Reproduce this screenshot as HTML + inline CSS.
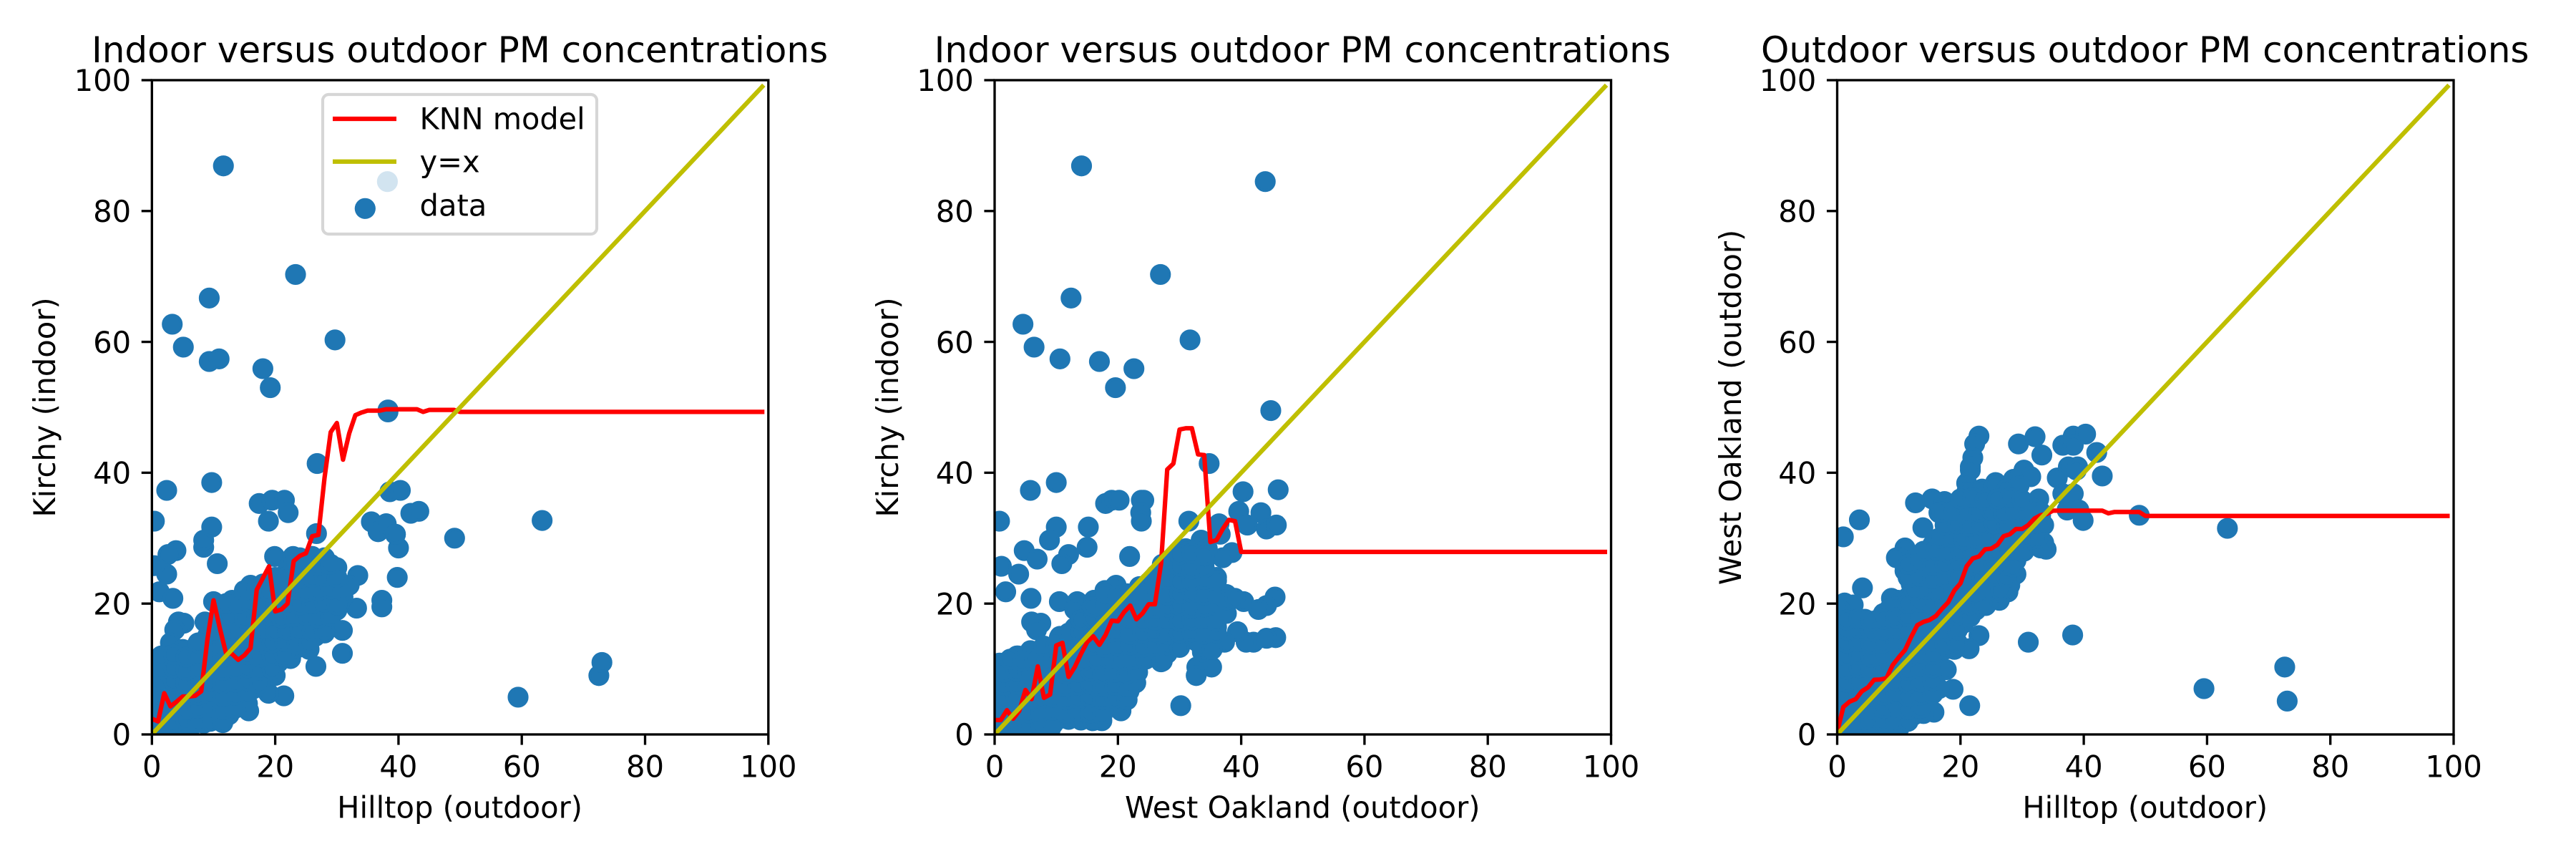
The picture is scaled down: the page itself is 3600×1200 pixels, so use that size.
<!DOCTYPE html>
<html lang="en">
<head>
<meta charset="utf-8">
<title>Indoor and outdoor PM concentrations</title>
<style>
html,body{margin:0;padding:0;background:#fff;}
svg{display:block;}
text{font-family:"DejaVu Sans","Liberation Sans",sans-serif;fill:#000;}
</style>
</head>
<body>
<svg id="figure" xmlns="http://www.w3.org/2000/svg" width="3600" height="1200" viewBox="0 0 3600 1200"></svg>
<script>
const tickValues = [0, 20, 40, 60, 80, 100];
const tickLabels = ["0", "20", "40", "60", "80", "100"];
const knnGrid = [0,1,2,3,4,5,6,7,8,9,10,11,12,13,14,15,16,17,18,19,20,21,22,23,24,25,26,27,28,29,30,31,32,33,34,35,36,37,38,39,40,41,42,43,44,45,46,47,48,49,50,51,52,53,54,55,56,57,58,59,60,61,62,63,64,65,66,67,68,69,70,71,72,73,74,75,76,77,78,79,80,81,82,83,84,85,86,87,88,89,90,91,92,93,94,95,96,97,98,99];
const identityX = [0, 99];
const identityY = [0, 99];

const knnKirchyHilltop = [2.4,2.0,6.3,4.3,5.0,5.8,5.8,5.9,6.6,14.5,
20.5,16.3,12.5,12.3,11.4,12.1,13.2,22.1,23.9,25.7,
18.8,19.1,20.0,26.5,27.3,27.7,30.3,30.5,39.2,46.2,
47.6,42.0,46.0,48.8,49.2,49.5,49.5,49.5,49.7,49.7,
49.7,49.7,49.7,49.7,49.3,49.6,49.6,49.6,49.6,49.6,
49.3,49.3,49.3,49.3,49.3,49.3,49.3,49.3,49.3,49.3,
49.3,49.3,49.3,49.3,49.3,49.3,49.3,49.3,49.3,49.3,
49.3,49.3,49.3,49.3,49.3,49.3,49.3,49.3,49.3,49.3,
49.3,49.3,49.3,49.3,49.3,49.3,49.3,49.3,49.3,49.3,
49.3,49.3,49.3,49.3,49.3,49.3,49.3,49.3,49.3,49.3];

const knnKirchyOakland = [2.2,2.2,3.7,2.4,3.6,6.8,5.4,10.4,5.6,6.1,
13.6,14.0,8.8,10.3,12.3,14.1,15.0,13.7,15.2,17.4,
17.3,18.7,19.7,17.6,18.5,19.9,19.9,26.1,40.5,41.4,
46.6,46.8,46.8,42.8,42.7,29.4,29.7,31.4,32.8,32.6,
27.9,27.9,27.9,27.9,27.9,27.9,27.9,27.9,27.9,27.9,
27.9,27.9,27.9,27.9,27.9,27.9,27.9,27.9,27.9,27.9,
27.9,27.9,27.9,27.9,27.9,27.9,27.9,27.9,27.9,27.9,
27.9,27.9,27.9,27.9,27.9,27.9,27.9,27.9,27.9,27.9,
27.9,27.9,27.9,27.9,27.9,27.9,27.9,27.9,27.9,27.9,
27.9,27.9,27.9,27.9,27.9,27.9,27.9,27.9,27.9,27.9];

const knnOaklandHilltop = [0.4,4.2,5.0,5.4,6.6,7.2,8.35,8.4,8.6,10.6,
11.8,12.9,14.9,16.7,17.2,17.5,18.1,19.2,20.2,22.0,
23.1,25.7,26.9,27.2,28.3,28.4,29.0,30.3,30.6,31.4,
31.4,32.0,33.0,33.5,33.7,34.2,34.2,34.2,34.2,34.2,
34.2,34.2,34.2,34.2,33.8,34.0,34.0,34.0,34.0,34.0,
33.4,33.4,33.4,33.4,33.4,33.4,33.4,33.4,33.4,33.4,
33.4,33.4,33.4,33.4,33.4,33.4,33.4,33.4,33.4,33.4,
33.4,33.4,33.4,33.4,33.4,33.4,33.4,33.4,33.4,33.4,
33.4,33.4,33.4,33.4,33.4,33.4,33.4,33.4,33.4,33.4,
33.4,33.4,33.4,33.4,33.4,33.4,33.4,33.4,33.4,33.4];

const scatterHilltopA = [
11.6,38.2,23.3,9.3,3.3,5.1,29.7,9.3,10.9,18.0,
19.2,38.3,38.3,26.8,2.4,9.7,38.6,40.3,17.4,19.5,
21.5,22.1,18.9,0.4,42.0,43.3,35.6,36.7,38.0,39.5,
40.0,49.1,63.3,59.4,72.5,73.0,39.8,37.3,37.3,30.9,
30.9,33.2,33.4,26.6,21.4,18.9,11.5,8.4,15.7,15.5,
8.4,8.4,9.7,10.6,3.9,2.6,2.4,0.4,1.2,3.4,
10.0,4.3,5.2,3.7,3.0,8.6,7.1,2.0,19.9,22.9,
26.7,26.0,36.7,38.0,39.5,
0.5,2.5,4.5,6.0,
0.5,2.5,4.5,6.5,8.5,10.5,12.5,
0.5,2.5,4.5,6.5,8.5,10.5,12.5,14.5,
0.5,2.5,4.5,6.5,8.5,10.5,12.5,14.5,16.5,
0.5,2.5,4.5,6.5,8.5,10.5,12.5,14.5,16.5,18.5,20.0,
0.5,2.5,4.5,6.5,8.5,10.5,12.5,14.5,16.5,18.5,20.5,22.5,
5.0,7.3,9.5,11.5,13.5,15.5,17.5,19.5,21.5,23.5,25.5,
9.0,11.0,13.0,15.0,17.0,19.0,21.0,23.0,25.0,26.5,28.0,
11.0,13.0,15.0,17.0,19.0,21.0,23.0,25.0,27.0,29.0,
12.0,14.0,16.0,18.0,20.0,22.0,24.0,26.0,28.0,30.0,
13.0,15.0,17.0,19.0,21.0,23.0,25.0,27.0,29.0,31.0,
16.0,18.0,20.0,22.0,24.0,26.0,28.0,30.0,32.0,
22.0,24.0,26.0,28.0,30.0,
24.0,26.0,28.0,
1.5,3.5,5.5,7.5,9.5,11.5,
1.5,3.5,5.5,7.5,9.5,11.5,13.5,
1.5,3.5,5.5,7.5,9.5,11.5,13.5,15.5,
1.5,3.5,5.5,7.5,9.5,11.5,13.5,15.5,17.5,
1.5,3.5,5.5,7.5,9.5,11.5,13.5,15.5,17.5,19.5,
1.5,3.5,5.5,7.5,9.5,11.5,13.5,15.5,17.5,19.5,21.5,
7.5,9.5,11.5,13.5,15.5,17.5,19.5,21.5,23.5,25.5,
10.0,12.0,14.0,16.0,18.0,20.0,22.0,24.0,26.0,28.0,
11.0,13.0,15.0,17.0,19.0,21.0,23.0,25.0,27.0,29.0,
12.0,14.0,16.0,18.0,20.0,22.0,24.0,26.0,28.0,30.0,
15.0,17.0,19.0,21.0,23.0,25.0,27.0,29.0,31.0,
20.0,22.0,24.0,26.0,28.0,30.0,
23.0,25.0,27.0,29.0];
const scatterKirchyA = [
86.9,84.5,70.3,66.7,62.7,59.2,60.3,57.0,57.4,55.9,
53.0,49.6,49.3,41.4,37.3,38.5,37.1,37.3,35.3,35.8,
35.8,33.9,32.6,32.6,33.8,34.1,32.5,31.0,32.2,30.6,
28.5,30.0,32.7,5.7,9.0,11.0,24.0,20.5,19.5,12.4,
15.9,19.3,24.3,10.4,5.9,6.3,2.3,1.7,3.6,4.7,
28.6,29.7,31.7,26.1,28.1,27.5,24.5,25.8,21.8,20.8,
20.3,17.2,17.0,16.0,14.0,17.2,13.4,12.1,27.2,27.2,
30.7,27.2,31.0,32.2,30.6,
0.8,1.0,0.6,0.5,
3.0,2.8,3.2,3.0,2.6,3.2,3.0,
5.0,5.2,4.8,5.0,5.3,4.8,5.2,5.0,
7.0,7.3,6.8,7.0,7.2,6.9,7.2,6.8,7.0,
9.0,9.3,8.8,9.2,9.0,8.8,9.2,9.0,8.8,9.2,9.0,
11.0,11.2,10.8,11.0,11.3,10.9,11.0,11.2,10.8,11.1,11.0,11.6,
13.0,13.3,13.0,12.8,13.2,13.0,12.8,13.2,13.0,13.2,13.0,
15.0,15.2,14.8,15.0,15.2,14.8,15.0,15.2,14.8,15.0,15.5,
17.0,17.2,16.8,17.0,17.2,16.8,17.0,17.2,16.8,17.0,
19.0,19.2,18.8,19.0,19.2,18.8,19.0,19.2,18.8,19.0,
20.5,21.0,21.2,20.8,21.0,21.2,20.8,21.0,21.2,21.0,
22.8,23.0,22.8,23.2,23.0,22.8,23.2,23.0,22.8,
25.0,25.2,24.8,25.2,25.5,
27.0,27.2,27.0,
2.0,1.8,2.2,2.0,2.0,1.8,
4.0,4.2,3.8,4.0,4.2,3.8,4.0,
6.0,6.2,5.8,6.0,6.2,5.8,6.0,6.2,
8.0,8.2,7.8,8.0,8.2,7.8,8.0,8.2,7.8,
10.0,10.2,9.8,10.0,10.2,9.8,10.0,10.2,9.8,10.0,
12.0,12.2,11.8,12.0,12.2,11.8,12.0,12.2,11.8,12.0,12.2,
14.0,14.2,13.8,14.0,14.2,13.8,14.0,14.2,13.8,14.0,
16.0,16.2,15.8,16.0,16.2,15.8,16.0,16.2,15.8,16.0,
18.0,18.2,17.8,18.0,18.2,17.8,18.0,18.2,17.8,18.0,
20.0,20.0,20.2,19.8,20.0,20.2,19.8,20.0,20.2,19.8,
22.0,22.2,21.8,22.0,22.2,21.8,22.0,22.2,22.0,
24.0,24.2,23.8,24.0,24.2,24.0,
26.0,26.2,25.8,26.0];

const scatterOaklandB = [
14.1,43.9,26.9,12.4,4.6,6.4,31.7,10.6,17.0,22.6,
19.6,44.8,34.8,5.8,10.0,40.3,46.0,18.0,19.0,20.2,
23.8,24.2,23.7,23.8,0.8,10.0,8.9,15.2,15.0,12.0,
10.9,4.8,6.9,1.1,3.9,1.8,5.9,10.5,21.9,31.5,
39.6,43.2,36.4,41.0,44.1,45.7,36.6,33.5,38.5,37.0,
36.0,45.5,44.1,42.8,40.4,37.6,45.6,44.1,42.0,40.8,
39.4,37.3,35.9,35.2,32.8,32.7,33.7,30.2,27.0,6.0,
7.5,6.8,10.6,3.6,5.9,0.8,13.4,13.0,17.9,19.7,
16.1,
0.5,2.5,4.5,6.5,8.5,9.0,
0.5,2.5,4.5,6.5,8.5,10.5,12.0,14.0,15.9,17.4,
0.5,2.5,4.5,6.5,8.5,10.5,12.5,14.5,16.5,18.5,20.5,
0.5,2.5,4.5,6.5,8.5,10.5,12.5,14.5,16.5,18.5,20.5,21.8,
0.5,2.5,4.5,6.5,8.5,10.5,12.5,14.5,16.5,18.5,20.5,22.6,
1.5,3.5,5.5,7.5,9.5,11.5,13.5,15.5,17.5,19.5,21.5,23.0,
3.8,5.8,8.0,10.0,12.0,14.0,16.0,18.0,20.0,22.0,24.0,26.0,28.0,
10.5,12.5,14.5,16.5,18.5,20.5,22.5,24.5,26.5,28.5,30.5,32.5,34.5,
13.0,15.0,17.0,19.0,21.0,23.0,25.0,27.0,29.0,31.0,33.0,35.0,36.0,
15.0,17.0,19.0,21.0,23.0,25.0,27.0,29.0,31.0,33.0,35.0,36.5,
17.0,19.0,21.0,23.0,25.0,27.0,29.0,31.0,33.0,35.0,37.0,
19.5,21.5,23.5,25.5,27.5,29.5,31.5,33.5,35.5,
25.0,26.2,28.0,30.0,32.0,34.0,
27.2,28.5,30.5,32.5,34.0,
31.0,33.0,34.5,
1.5,3.5,5.5,7.5,9.5,
1.5,3.5,5.5,7.5,9.5,11.5,13.5,15.5,17.5,20.5,
1.5,3.5,5.5,7.5,9.5,11.5,13.5,15.5,17.5,19.5,21.5,
1.5,3.5,5.5,7.5,9.5,11.5,13.5,15.5,17.5,19.5,21.5,22.9,
1.5,3.5,5.5,7.5,9.5,11.5,13.5,15.5,17.5,19.5,21.5,23.2,
2.5,4.5,6.5,8.5,10.5,12.5,14.5,16.5,18.5,20.5,22.5,24.5,27.2,
8.0,10.0,12.0,14.0,16.0,18.0,20.0,22.0,24.0,26.0,28.0,30.0,33.5,35.3,
12.0,14.0,16.0,18.0,20.0,22.0,24.0,26.0,28.0,30.0,32.0,34.0,36.0,
14.0,16.0,18.0,20.0,22.0,24.0,26.0,28.0,30.0,32.0,34.0,36.0,
16.0,18.0,20.0,22.0,24.0,26.0,28.0,30.0,32.0,34.0,36.0,
18.0,20.0,22.0,24.0,26.0,28.0,30.0,32.0,34.0,36.0,
26.0,28.0,30.0,32.0,34.0,36.0,
28.0,30.0,32.0,34.0,
30.0,32.0,34.0,
37.6,37.6,39.0];
const scatterKirchyB = [
86.9,84.5,70.3,66.7,62.7,59.2,60.3,57.4,57.0,55.9,
53.0,49.5,41.4,37.3,38.5,37.1,37.4,35.3,35.8,35.8,
35.8,35.8,33.9,32.6,32.6,31.7,29.7,31.7,28.6,27.5,
26.1,28.1,26.8,25.7,24.5,21.8,20.8,20.3,27.2,32.6,
34.1,33.9,32.2,32.0,31.4,32.0,30.6,29.7,27.8,27.0,
24.0,21.0,19.7,19.1,20.3,21.4,14.8,14.7,14.1,14.1,
15.7,14.1,18.4,10.3,10.3,9.0,12.6,4.4,11.1,17.2,
17.0,16.0,15.0,12.0,12.6,10.9,20.3,19.1,22.0,22.8,
20.5,
0.8,1.0,0.6,0.8,1.0,0.7,
2.5,2.8,2.4,2.8,2.6,2.4,2.3,2.2,2.1,2.1,
4.5,4.7,4.4,4.6,4.5,4.7,4.4,4.6,4.5,4.7,4.5,
6.5,6.7,6.4,6.6,6.5,6.7,6.4,6.6,6.5,6.7,6.5,6.6,
8.5,8.7,8.4,8.6,8.5,8.7,8.4,8.6,8.5,8.7,8.5,8.4,
10.0,10.5,10.3,10.6,10.4,10.6,10.4,10.6,10.4,10.6,10.4,10.2,
12.0,12.8,13.0,12.4,12.6,13.0,12.4,12.6,12.4,12.6,12.4,12.6,12.4,
14.8,14.4,14.6,14.4,14.6,14.4,14.6,14.4,14.6,14.4,14.6,14.4,13.0,
16.3,16.5,16.3,16.6,16.4,16.6,16.4,16.6,16.4,16.6,16.4,16.6,16.4,
18.4,18.6,18.4,18.6,18.4,18.6,18.4,18.6,18.4,18.6,18.4,18.5,
20.5,20.7,20.5,20.7,20.5,20.7,20.5,20.7,20.5,20.7,20.5,
22.6,21.5,22.6,22.5,22.7,22.5,22.7,22.5,22.7,
23.2,24.4,24.4,24.6,24.4,24.6,
26.0,26.6,26.4,26.6,26.4,
28.4,28.6,28.4,
1.5,1.7,1.3,1.5,1.6,
3.5,3.7,3.3,3.5,3.7,3.3,3.5,3.3,3.1,3.6,
5.5,5.7,5.3,5.5,5.7,5.3,5.5,5.7,5.3,5.5,5.3,
7.5,7.7,7.3,7.5,7.7,7.3,7.5,7.7,7.3,7.5,7.3,7.9,
9.5,9.7,9.3,9.5,9.7,9.3,9.5,9.7,9.3,9.5,9.3,9.5,
11.5,11.2,11.6,11.3,11.5,11.6,11.3,11.5,11.6,11.3,11.5,11.5,11.2,
13.5,13.7,13.3,13.5,13.7,13.3,13.5,13.7,13.3,13.5,13.7,13.3,13.5,13.0,
15.5,15.7,15.3,15.5,15.7,15.3,15.5,15.7,15.3,15.5,15.7,15.3,15.5,
17.5,17.7,17.3,17.5,17.7,17.3,17.5,17.7,17.3,17.5,17.7,17.3,
19.5,19.7,19.3,19.5,19.7,19.3,19.5,19.7,19.3,19.5,19.7,
21.5,21.2,21.3,21.5,21.7,21.3,21.5,21.7,21.3,21.5,
23.5,23.7,23.3,23.5,23.7,23.5,
25.5,25.7,25.3,25.5,
27.5,27.7,27.3,
18.5,20.6,20.8];

const scatterHilltopC = [
1.0,3.6,4.1,13.9,11.0,10.1,23.0,22.3,22.0,21.6,
21.6,21.0,22.0,29.4,32.1,33.2,36.6,38.3,40.3,38.3,
42.1,43.0,37.5,39.0,38.8,30.3,31.4,35.7,49.0,63.3,
59.5,72.6,73.0,38.2,31.0,23.0,21.4,21.5,18.8,17.7,
15.7,10.1,12.7,15.4,17.4,16.5,25.7,28.6,32.7,33.9,
33.5,30.3,32.0,36.6,38.3,37.3,39.2,39.9,28.6,28.1,
27.7,26.3,24.1,21.6,1.2,2.6,8.8,9.9,
0.5,2.5,4.5,6.5,8.0,
0.5,2.5,4.5,6.5,8.5,10.5,12.5,14.0,
0.5,2.5,4.5,6.5,8.5,10.5,12.5,14.5,
0.5,2.5,4.5,6.5,8.5,10.5,12.5,14.5,16.5,
0.5,2.5,4.5,6.5,8.5,10.5,12.5,14.5,16.0,
0.5,2.5,4.5,6.5,8.5,10.5,12.5,14.5,16.0,
0.5,2.5,4.5,6.5,8.5,10.5,12.5,14.5,16.5,17.5,19.0,
0.5,2.5,4.5,6.5,8.5,10.5,12.5,14.5,16.5,18.5,
0.5,2.5,4.5,6.5,8.5,10.5,12.5,14.5,16.5,18.5,20.5,
0.5,7.5,8.5,9.5,12.5,14.5,16.5,18.5,20.5,22.5,
11.5,13.5,15.5,17.5,19.5,21.5,23.5,25.5,
12.0,14.0,16.0,18.0,20.0,22.0,24.0,26.0,28.0,
11.0,13.0,15.0,17.0,19.0,21.0,23.0,25.0,27.0,29.0,
9.6,13.0,15.0,17.0,19.0,21.0,23.0,25.0,27.0,29.0,
15.5,17.0,19.0,21.0,23.0,25.0,27.0,29.0,31.0,33.0,
18.0,20.0,22.0,24.0,26.0,28.0,30.0,32.0,
17.5,19.5,21.5,23.5,25.5,27.5,29.5,31.5,33.0,
18.0,20.0,22.0,24.0,26.0,28.0,30.0,32.0,
21.0,23.5,25.5,27.5,29.5,
1.5,3.5,5.5,7.5,9.5,11.5,
1.5,3.5,5.5,7.5,9.5,11.5,13.5,
1.5,3.5,5.5,7.5,9.5,11.5,13.5,15.5,
1.5,3.5,5.5,7.5,9.5,11.5,13.5,15.5,
1.5,3.5,5.5,7.5,9.5,11.5,13.5,15.5,
1.5,3.5,5.5,7.5,9.5,11.5,13.5,15.5,
1.5,3.5,5.5,7.5,9.5,11.5,13.5,15.5,17.5,19.5,
1.5,3.5,5.5,7.5,9.5,11.5,13.5,15.5,17.5,19.5,
1.5,3.5,5.5,7.5,9.5,11.5,13.5,15.5,17.5,19.5,21.5,
11.5,13.5,15.5,17.5,19.5,21.5,23.5,
12.5,14.5,16.5,18.5,20.5,22.5,24.5,26.5,
11.5,13.5,15.5,17.5,19.5,21.5,23.5,25.5,27.5,
11.5,13.5,15.5,17.5,19.5,21.5,23.5,25.5,27.5,28.5,
14.0,16.0,18.0,20.0,22.0,24.0,26.0,28.0,30.0,
16.5,18.5,20.5,22.5,24.5,26.5,28.5,30.5,32.5,
17.5,19.5,21.5,23.5,25.5,27.5,29.5,31.5,33.5,
17.0,19.0,21.0,23.0,25.0,27.0,29.0,31.0,33.0,
20.0,22.0,24.0,26.0,28.0,30.0];
const scatterOaklandC = [
30.2,32.8,22.4,31.6,28.5,27.0,45.6,44.4,42.3,40.9,
40.4,38.4,37.4,44.4,45.5,42.7,44.2,45.6,45.9,44.2,
43.1,39.5,40.9,40.9,40.4,40.4,39.4,39.2,33.5,31.5,
7.0,10.3,5.1,15.2,14.1,15.1,13.1,4.4,6.9,9.9,
3.4,1.1,35.4,36.0,35.6,33.9,38.5,39.0,36.0,28.3,
29.3,28.0,30.1,36.8,36.8,34.3,34.3,32.7,24.3,26.0,
21.8,20.5,19.7,18.0,20.1,19.8,20.8,20.5,
1.0,0.8,1.0,0.8,1.0,
3.0,3.2,2.8,3.0,3.2,2.8,3.0,3.2,
5.0,5.2,4.8,5.0,5.2,4.8,5.0,5.2,
7.0,7.2,6.8,7.0,7.2,6.8,7.0,7.2,7.0,
9.0,9.2,8.8,9.0,9.2,8.8,9.0,9.2,9.0,
11.0,11.2,10.8,11.0,11.2,10.8,11.0,11.2,11.0,
13.0,13.2,12.8,13.0,13.2,12.8,13.0,13.2,12.8,13.0,13.0,
15.0,15.2,14.8,15.0,15.2,14.8,15.0,15.2,14.8,15.0,
17.0,17.4,17.6,17.5,17.2,16.8,17.0,17.2,16.8,17.0,17.0,
19.0,18.5,19.2,19.5,19.0,19.2,18.8,19.0,19.2,19.0,
21.0,21.2,20.8,21.0,21.2,20.8,21.0,21.2,
23.0,23.2,22.8,23.0,23.2,22.8,23.0,23.2,22.8,
25.0,25.2,24.8,25.0,25.2,24.8,25.0,25.2,24.8,24.5,
27.0,27.0,27.2,26.8,27.0,27.2,26.8,27.0,27.2,26.6,
29.0,29.2,28.8,29.0,29.2,28.8,29.0,29.2,29.0,28.5,
31.0,31.2,30.8,31.0,31.2,30.8,31.0,31.0,
33.0,33.2,32.8,33.0,33.2,32.8,33.0,33.2,33.5,
35.0,35.2,34.8,35.0,35.2,34.8,35.0,35.0,
37.0,37.5,38.0,37.5,38.0,
2.0,1.8,2.2,2.0,1.8,2.0,
4.0,4.2,3.8,4.0,4.2,3.8,4.0,
6.0,6.2,5.8,6.0,6.2,5.8,6.0,6.2,
8.0,8.2,7.8,8.0,8.2,7.8,8.0,8.2,
10.0,10.2,9.8,10.0,10.2,9.8,10.0,10.2,
12.0,12.2,11.8,12.0,12.2,11.8,12.0,12.2,
14.0,14.2,13.8,14.0,14.2,13.8,14.0,14.2,13.8,14.0,
16.0,16.2,15.8,16.0,16.2,15.8,16.0,16.2,15.8,16.0,
17.5,17.7,17.3,17.6,17.8,18.0,18.2,17.8,18.0,18.2,18.0,
20.0,20.2,19.8,20.0,20.2,19.8,20.0,
22.0,22.2,21.8,22.0,22.2,21.8,22.0,22.0,
24.0,24.2,23.8,24.0,24.2,23.8,24.0,24.2,24.0,
26.0,26.2,25.8,26.0,26.2,25.8,26.0,26.2,25.8,25.6,
28.0,28.2,27.8,28.0,28.2,27.8,28.0,28.2,28.0,
30.0,30.2,29.8,30.0,30.2,29.8,30.0,30.2,30.0,
32.0,32.2,31.8,32.0,32.2,31.8,32.0,32.2,32.0,
34.0,34.2,33.8,34.0,34.2,33.8,34.0,34.2,34.0,
36.0,36.2,35.8,36.0,36.2,35.8];

const NS = "http://www.w3.org/2000/svg";
const fig = document.getElementById("figure");
const axTop = 112, axBottom = 1026, axWidth = 861.5;

function svgEl(tag, parent, attrs) {
  const el = document.createElementNS(NS, tag);
  for (const k in attrs) el.setAttribute(k, attrs[k]);
  parent.appendChild(el);
  return el;
}

const bg = svgEl("rect", fig, {x:0, y:0, width:3600, height:1200, fill:"#ffffff"});



function polylinePoints(xs, ys, sx, sy) {
  return xs.map(function (v, i) { return sx(v).toFixed(2) + "," + sy(ys[i]).toFixed(2); }).join(" ");
}

function drawPanel(id, left, title, xTitle, yTitle, yTitleX, scatterX, scatterY, knnY) {
  const sx = function (v) { return left + v / 100 * axWidth; };
  const sy = function (v) { return axBottom - v / 100 * (axBottom - axTop); };

  const g = svgEl("g", fig, {});
  
  

  const clip = svgEl("clipPath", g, {id: id + "-clip"});
  svgEl("rect", clip, {x: left, y: axTop, width: axWidth, height: axBottom - axTop});

  const dots = svgEl("g", g, {"clip-path": "url(#" + id + "-clip)", fill: "#1f77b4", stroke: "#1f77b4", "stroke-width": 4.17});
  
  
  scatterX.forEach(function (v, i) {
    const dot = svgEl("circle", dots, {cx: sx(v).toFixed(2), cy: sy(scatterY[i]).toFixed(2), r: 12.5});
    
    
  });

  const knn = svgEl("polyline", g, {points: polylinePoints(knnGrid, knnY, sx, sy), fill: "none", stroke: "#ff0000", "stroke-width": 6.25, "stroke-linejoin": "round", "stroke-linecap": "square", "clip-path": "url(#" + id + "-clip)"});
  
  

  const identity = svgEl("polyline", g, {points: polylinePoints(identityX, identityY, sx, sy), fill: "none", stroke: "#bfbf00", "stroke-width": 6.25, "stroke-linecap": "square", "clip-path": "url(#" + id + "-clip)"});
  
  

  const frame = svgEl("rect", g, {x: left, y: axTop, width: axWidth, height: axBottom - axTop, fill: "none", stroke: "#000", "stroke-width": 3.33});
  
  

  tickValues.forEach(function (v, i) {
    const xt = svgEl("line", g, {x1: sx(v), x2: sx(v), y1: axBottom, y2: axBottom + 14.58, stroke: "#000", "stroke-width": 3.33});
    
    
    const xl = svgEl("text", g, {x: sx(v), y: 1085.5, "text-anchor": "middle", "font-size": 41.67});
    xl.textContent = tickLabels[i];
    
    
    const yt = svgEl("line", g, {x1: left - 14.58, x2: left, y1: sy(v), y2: sy(v), stroke: "#000", "stroke-width": 3.33});
    
    
    const yl = svgEl("text", g, {x: left - 29.2, y: sy(v) + 15.2, "text-anchor": "end", "font-size": 41.67});
    yl.textContent = tickLabels[i];
    
    
  });

  const t = svgEl("text", g, {x: left + axWidth / 2 - 0.5, y: 87, "text-anchor": "middle", "font-size": 50});
  t.textContent = title;
  
  

  const xa = svgEl("text", g, {x: left + axWidth / 2 - 0.5, y: 1142.3, "text-anchor": "middle", "font-size": 41.67});
  xa.textContent = xTitle;
  
  

  const cy = (axTop + axBottom) / 2;
  const ya = svgEl("text", g, {x: yTitleX, y: cy, "text-anchor": "middle", "font-size": 41.67, transform: "rotate(-90 " + yTitleX + " " + cy + ")"});
  ya.textContent = yTitle;
  
  
}

drawPanel("panel-hilltop-kirchy", 212.3, "Indoor versus outdoor PM concentrations", "Hilltop (outdoor)", "Kirchy (indoor)", 77, scatterHilltopA, scatterKirchyA, knnKirchyHilltop);
drawPanel("panel-oakland-kirchy", 1390, "Indoor versus outdoor PM concentrations", "West Oakland (outdoor)", "Kirchy (indoor)", 1255, scatterOaklandB, scatterKirchyB, knnKirchyOakland);
drawPanel("panel-hilltop-oakland", 2567.5, "Outdoor versus outdoor PM concentrations", "Hilltop (outdoor)", "West Oakland (outdoor)", 2433, scatterHilltopC, scatterOaklandC, knnOaklandHilltop);

const legend = svgEl("g", fig, {});


const legendBox = svgEl("rect", legend, {x: 451, y: 132, width: 383, height: 195, rx: 8.3, ry: 8.3, fill: "#ffffff", "fill-opacity": 0.8, stroke: "#cccccc", "stroke-opacity": 0.8, "stroke-width": 4.17});


const legendKnn = svgEl("line", legend, {x1: 465, x2: 554, y1: 166, y2: 166, stroke: "#ff0000", "stroke-width": 6.25});


const legendIdentity = svgEl("line", legend, {x1: 465, x2: 554, y1: 225.7, y2: 225.7, stroke: "#bfbf00", "stroke-width": 6.25});


const legendDot = svgEl("circle", legend, {cx: 510.3, cy: 291.3, r: 14.6, fill: "#1f77b4"});


const legendText1 = svgEl("text", legend, {x: 586.5, y: 180.7, "font-size": 41.4});
legendText1.textContent = "KNN model";


const legendText2 = svgEl("text", legend, {x: 586.5, y: 240.7, "font-size": 41.67});
legendText2.textContent = "y=x";


const legendText3 = svgEl("text", legend, {x: 586.5, y: 301.7, "font-size": 41.67});
legendText3.textContent = "data";


</script>
</body>
</html>
